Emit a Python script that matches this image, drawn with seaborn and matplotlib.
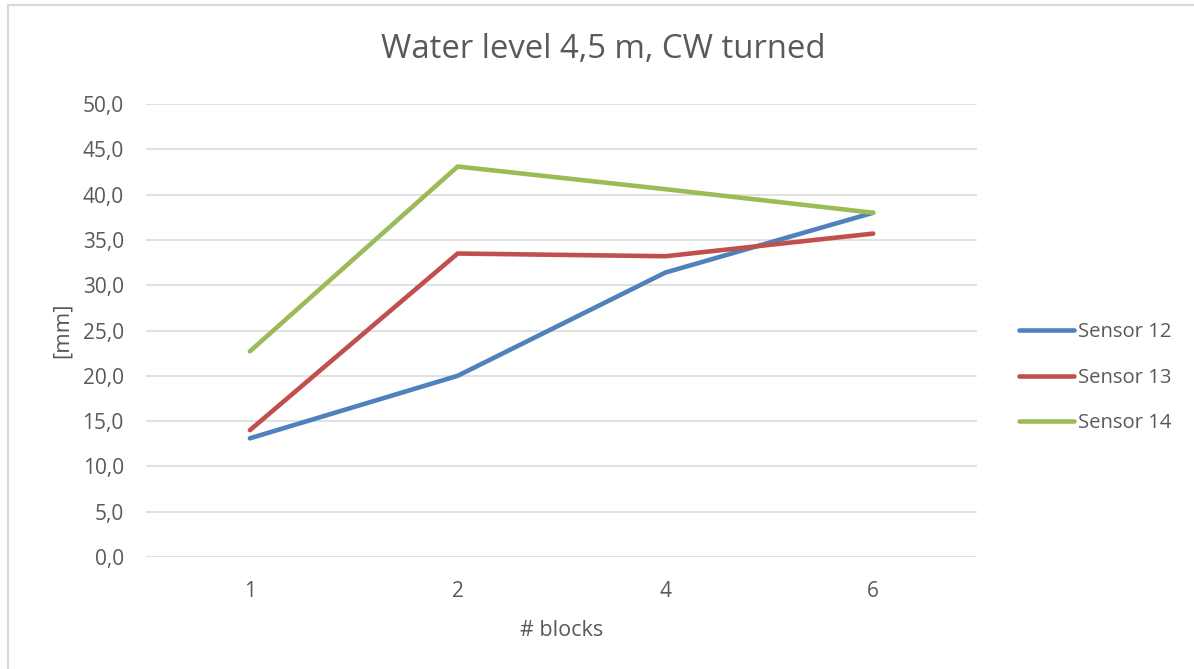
import matplotlib
matplotlib.use("Agg")
import matplotlib.pyplot as plt
import seaborn as sns
import pandas as pd
from matplotlib.lines import Line2D

# Data
blocks = ["1", "2", "4", "6"]
sensor_12 = [13.1, 20.0, 31.4, 38.0]
sensor_13 = [14.0, 33.5, 33.2, 35.7]
sensor_14 = [22.7, 43.1, 40.6, 38.0]
series_names = ["Sensor 12", "Sensor 13", "Sensor 14"]
y_ticks = [0, 5, 10, 15, 20, 25, 30, 35, 40, 45, 50]

colors = ["#4F81BD", "#C0504D", "#9BBB59"]
text_color = "#595959"
grid_color = "#D9D9D9"

sns.set_theme(style="white")
plt.rcParams["font.family"] = ["Open Sans", "DejaVu Sans"]

df = pd.DataFrame({
    "blocks": blocks * 3,
    "value": sensor_12 + sensor_13 + sensor_14,
    "sensor": [s for s in series_names for _ in blocks],
})

fig = plt.figure(figsize=(11.94, 6.69), dpi=100)
ax = fig.add_axes([0.1223, 0.1674, 0.8183 - 0.1223, 0.8445 - 0.1674])

sns.lineplot(data=df, x="blocks", y="value", hue="sensor", palette=colors,
             sort=False, linewidth=3.3, ax=ax, legend=False,
             solid_capstyle="round", solid_joinstyle="round")

ax.set_xlim(-0.5, len(blocks) - 0.5)
ax.set_ylim(0, 50)
ax.set_yticks(y_ticks)
ax.set_yticklabels([f"{v:.1f}".replace(".", ",") for v in y_ticks])
ax.yaxis.grid(True, color=grid_color, linewidth=1.1)
ax.set_axisbelow(True)
for sp in ax.spines.values():
    sp.set_visible(False)
ax.tick_params(axis="both", length=0, labelsize=15, labelcolor=text_color)
ax.tick_params(axis="y", pad=16)
ax.tick_params(axis="x", pad=17)

ax.set_xlabel("# blocks", fontsize=15.5, color=text_color, labelpad=13)
ax.set_ylabel("[mm]", fontsize=16, color=text_color, labelpad=7)

fig.text(0.505, 0.926, "Water level 4,5 m, CW turned", ha="center", va="center",
         fontsize=23.7, color=text_color)

handles = [Line2D([0], [0], color=c, linewidth=3.3, solid_capstyle="round")
           for c in colors]
leg = fig.legend(handles, series_names, loc="center left",
                 bbox_to_anchor=(0.838, 0.4355), frameon=False,
                 fontsize=14.6, handlelength=2.7, handletextpad=0.2,
                 labelspacing=1.26)
for t in leg.get_texts():
    t.set_color(text_color)

# Chart area border (left and top edges)
fig.add_artist(Line2D([0.0063, 0.0063], [0.0, 0.9925], transform=fig.transFigure,
                      color=grid_color, linewidth=1.5))
fig.add_artist(Line2D([0.0063, 1.0], [0.9925, 0.9925], transform=fig.transFigure,
                      color=grid_color, linewidth=1.5))

fig.savefig("out.png", dpi=100, facecolor="white")
